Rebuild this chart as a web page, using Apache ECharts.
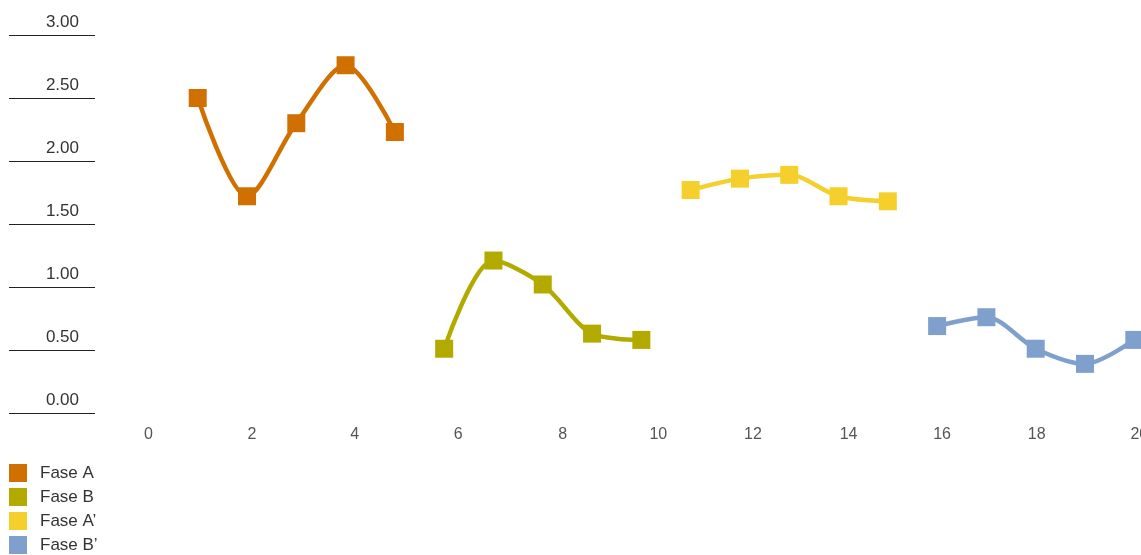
<!DOCTYPE html>
<html>
<head>
<meta charset="utf-8">
<script src="https://cdn.jsdelivr.net/npm/echarts@6/dist/echarts.min.js"></script>
<style>
  html, body { margin: 0; padding: 0; background: #fff; }
  #chart { width: 1141px; height: 555px; }
</style>
</head>
<body>
<div id="chart"></div>
<script>
const seriesNames = ['Fase A', 'Fase B', 'Fase A’', 'Fase B’']
const colors = ['#d07000', '#b3aa00', '#f5cf2b', '#7fa0cc']

const faseAX = [1, 2, 3, 4, 5]
const faseAY = [2.5, 1.72, 2.3, 2.76, 2.23]
const faseBX = [6, 7, 8, 9, 10]
const faseBY = [0.51, 1.21, 1.02, 0.63, 0.58]
const faseA2X = [11, 12, 13, 14, 15]
const faseA2Y = [1.77, 1.86, 1.89, 1.72, 1.68]
const faseB2X = [16, 17, 18, 19, 20]
const faseB2Y = [0.69, 0.76, 0.51, 0.39, 0.58]

const xTicks = [0, 2, 4, 6, 8, 10, 12, 14, 16, 18, 20]
const yTicks = [0, 0.5, 1, 1.5, 2, 2.5, 3]

// the source drew its x labels a little off the tick, this nudges them (px)
const xLabelNudge = [0, 5, 9, 14, 20, 17, 13, 10, 5, 1, 5]

const allX = [faseAX, faseBX, faseA2X, faseB2X]
const allY = [faseAY, faseBY, faseA2Y, faseB2Y]

const font = '"Liberation Sans", Arial, sans-serif'

const xRich = {}
xTicks.forEach((t, i) => {
  xRich['t' + t] = { color: '#555', fontSize: 16, fontFamily: font, padding: [0, 0, 0, xLabelNudge[i] * 2] }
})

const chart = echarts.init(document.getElementById('chart'))

function renderChart() {
  chart.setOption({
    backgroundColor: '#fff',
    animation: false,
    grid: [
      { left: 148.4, right: 6.7, top: 35, bottom: 142, outerBoundsMode: 'none' },
      { left: 9, width: 86, top: 35, bottom: 142, outerBoundsMode: 'none' },
    ],
    legend: {
      orient: 'vertical',
      left: 9,
      top: 464,
      padding: 0,
      itemWidth: 18,
      itemHeight: 18,
      itemGap: 6,
      icon: 'rect',
      data: seriesNames,
      textStyle: { color: '#333', fontSize: 17, fontFamily: font, padding: [0, 0, 0, 8] },
    },
    xAxis: [
      {
        type: 'value',
        min: xTicks[0],
        max: xTicks[xTicks.length - 1],
        interval: 2,
        axisLine: { show: false },
        axisTick: { show: false },
        splitLine: { show: false },
        axisLabel: {
          margin: 14,
          hideOverlap: false,
          formatter: (v) => '{t' + v + '|' + v + '}',
          rich: xRich,
        },
      },
      { gridIndex: 1, type: 'value', show: false },
    ],
    yAxis: [
      {
        type: 'value',
        min: yTicks[0],
        max: yTicks[yTicks.length - 1],
        interval: 0.5,
        show: false,
      },
      {
        gridIndex: 1,
        type: 'value',
        position: 'right',
        min: yTicks[0],
        max: yTicks[yTicks.length - 1],
        interval: 0.5,
        axisLine: { show: false },
        axisTick: { show: false },
        splitLine: { show: true, lineStyle: { color: '#222', width: 1 } },
        axisLabel: {
          inside: true,
          margin: 16,
          color: '#333',
          fontSize: 17,
          fontFamily: font,
          verticalAlign: 'bottom',
          padding: [0, 0, 4, 0],
          formatter: (v) => v.toFixed(2),
        },
      },
    ],
    series: seriesNames.map((name, i) => ({
      name,
      type: 'line',
      smooth: 0.3,
      clip: false,
      symbol: 'rect',
      symbolSize: 18,
      data: allX[i].map((x, j) => [x, allY[i][j]]),
      lineStyle: { color: colors[i], width: 4.5 },
      itemStyle: { color: colors[i] },
    })),
  })
}

renderChart()

window.addEventListener('resize', () => chart.resize())
</script>
</body>
</html>
